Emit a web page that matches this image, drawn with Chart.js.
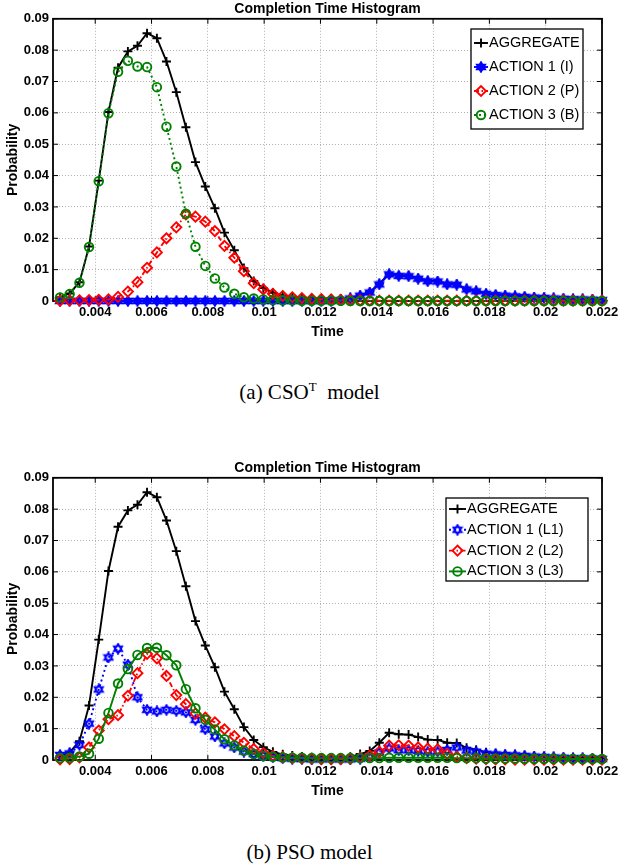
<!DOCTYPE html>
<html lang="en">
<head>
<meta charset="UTF-8">
<title>Completion Time Histogram</title>
<script src="https://cdn.jsdelivr.net/npm/chart.js"></script>
<style>
  body {
    margin: 0;
    background: #fff;
    width: 619px;
    height: 865px;
    position: relative;
    overflow: hidden;
  }
  .plot {
    position: absolute;
    left: 0;
    width: 619px;
    height: 345px;
  }
  .caption {
    position: absolute;
    left: 0;
    width: 619px;
    text-align: center;
    font-family: "Liberation Serif", "Times New Roman", serif;
    font-size: 21px;
    line-height: 24px;
    color: #000;
  }
  .caption sup {
    font-size: 13px;
    vertical-align: 8px;
    line-height: 0;
  }
</style>
</head>
<body>
<div class="plot" style="top:0"><canvas id="chartA"></canvas></div>
<div class="caption" style="top:380px">(a) CSO<sup>T</sup>&nbsp; model</div>
<div class="plot" style="top:459px"><canvas id="chartB"></canvas></div>
<div class="caption" style="top:840px">(b) PSO model</div>

<script>
// bin centres (s)
const time = [
  0.00275, 0.00309, 0.00344, 0.00378, 0.004125, 0.00447, 0.00481, 0.00516, 0.0055, 0.00584,
  0.00619, 0.00653, 0.00688, 0.00722, 0.00756, 0.00791, 0.00825, 0.00859, 0.00894, 0.00928,
  0.00963, 0.00997, 0.01031, 0.01066, 0.011, 0.01134, 0.01169, 0.01203, 0.01238, 0.01272,
  0.01306, 0.01341, 0.01375, 0.01409, 0.01444, 0.01478, 0.01513, 0.01547, 0.01581, 0.01616,
  0.0165, 0.01684, 0.01719, 0.01753, 0.01788, 0.01822, 0.01856, 0.01891, 0.01925, 0.01959,
  0.01994, 0.02028, 0.02063, 0.02097, 0.02131, 0.02166, 0.022
];

const xTicks = [0.004, 0.006, 0.008, 0.01, 0.012, 0.014, 0.016, 0.018, 0.02, 0.022];
const yTicks = [0, 0.01, 0.02, 0.03, 0.04, 0.05, 0.06, 0.07, 0.08, 0.09];

// same aggregate in both models
const aggregate = [
  0.0012, 0.0024, 0.0060, 0.0174, 0.0384, 0.0603, 0.0744, 0.0796, 0.0814, 0.0854,
  0.0838, 0.0764, 0.0666, 0.0554, 0.0443, 0.0365, 0.0296, 0.0218, 0.0162, 0.0105,
  0.0064, 0.0041, 0.0026, 0.0018, 0.0014, 0.0011, 0.0009, 0.0008, 0.0007, 0.0007,
  0.0010, 0.0019, 0.0029, 0.0055, 0.0087, 0.0082, 0.0081, 0.0073, 0.0065, 0.0064,
  0.0055, 0.0054, 0.0039, 0.0033, 0.0025, 0.0021, 0.0019, 0.0017, 0.0015, 0.0013,
  0.0012, 0.0010, 0.0009, 0.0008, 0.0007, 0.0006, 0.0005
];

// (a) CSO^T model
const csoAction1 = [
  0, 0, 0, 0, 0, 0, 0, 0, 0, 0,
  0, 0, 0, 0, 0, 0, 0, 0, 0, 0,
  0, 0, 0, 0, 0, 0, 0, 0, 0, 0.0003,
  0.0008, 0.0017, 0.0027, 0.0053, 0.0085, 0.0080, 0.0079, 0.0071, 0.0063, 0.0062,
  0.0053, 0.0052, 0.0037, 0.0031, 0.0023, 0.0019, 0.0017, 0.0015, 0.0013, 0.0011,
  0.0010, 0.0008, 0.0007, 0.0006, 0.0005, 0.0004, 0.0003
];
const csoAction2 = [
  0.0001, 0.0002, 0.0002, 0.0003, 0.0004, 0.0005, 0.0013, 0.0030, 0.0060, 0.0106,
  0.0155, 0.0200, 0.0235, 0.0276, 0.0269, 0.0253, 0.0223, 0.0176, 0.0138, 0.0095,
  0.0057, 0.0037, 0.0023, 0.0016, 0.0012, 0.0009, 0.0007, 0.0006, 0.0005, 0.0004,
  0.0003, 0.0002, 0.0002, 0.0001, 0.0001, 0.0001, 0.0001, 0.0001, 0.0001, 0.0001,
  0.0001, 0.0001, 0.0001, 0.0001, 0.0001, 0.0001, 0.0001, 0.0001, 0.0001, 0.0001,
  0.0001, 0.0001, 0.0001, 0.0001, 0.0001, 0.0001, 0.0001
];
const csoAction3 = [
  0.0011, 0.0022, 0.0058, 0.0172, 0.0382, 0.0599, 0.0731, 0.0766, 0.0748, 0.0746,
  0.0682, 0.0556, 0.0429, 0.0278, 0.0173, 0.0112, 0.0072, 0.0043, 0.0023, 0.0012,
  0.0008, 0.0005, 0.0003, 0.0002, 0.0002, 0.0001, 0.0001, 0.0001, 0.0001, 0.0001,
  0, 0, 0, 0, 0, 0, 0, 0, 0, 0,
  0, 0, 0, 0, 0, 0, 0, 0, 0, 0,
  0, 0, 0, 0, 0, 0, 0
];

// (b) PSO model
const psoAction1 = [
  0.0016, 0.0021, 0.0048, 0.0116, 0.0225, 0.0327, 0.0355, 0.0304, 0.0200, 0.0160,
  0.0155, 0.0160, 0.0157, 0.0152, 0.0128, 0.0098, 0.0075, 0.0053, 0.0040, 0.0027,
  0.0019, 0.0013, 0.0009, 0.0006, 0.0004, 0.0003, 0.0002, 0.0002, 0.0002, 0.0002,
  0.0002, 0.0004, 0.0010, 0.0024, 0.0037, 0.0031, 0.0031, 0.0029, 0.0026, 0.0027,
  0.0032, 0.0040, 0.0030, 0.0026, 0.0020, 0.0018, 0.0016, 0.0015, 0.0013, 0.0011,
  0.0010, 0.0008, 0.0007, 0.0006, 0.0005, 0.0004, 0.0003
];
const psoAction2 = [
  0.0002, 0.0003, 0.0008, 0.0040, 0.0094, 0.0130, 0.0143, 0.0205, 0.0277, 0.0338,
  0.0324, 0.0268, 0.0207, 0.0178, 0.0148, 0.0135, 0.0120, 0.0098, 0.0076, 0.0055,
  0.0035, 0.0022, 0.0013, 0.0009, 0.0006, 0.0005, 0.0004, 0.0003, 0.0003, 0.0003,
  0.0004, 0.0008, 0.0014, 0.0026, 0.0046, 0.0047, 0.0046, 0.0040, 0.0036, 0.0034,
  0.0020, 0.0011, 0.0006, 0.0004, 0.0003, 0.0002, 0.0002, 0.0001, 0.0001, 0.0001,
  0.0001, 0.0001, 0.0001, 0.0001, 0.0001, 0.0001, 0.0001
];
const psoAction3 = [
  0.0006, 0.0007, 0.0011, 0.0020, 0.0068, 0.0150, 0.0244, 0.0290, 0.0335, 0.0357,
  0.0358, 0.0334, 0.0302, 0.0226, 0.0165, 0.0128, 0.0097, 0.0066, 0.0046, 0.0030,
  0.0019, 0.0013, 0.0010, 0.0008, 0.0007, 0.0007, 0.0006, 0.0006, 0.0006, 0.0006,
  0.0006, 0.0006, 0.0006, 0.0006, 0.0007, 0.0007, 0.0007, 0.0007, 0.0007, 0.0007,
  0.0007, 0.0006, 0.0006, 0.0006, 0.0005, 0.0005, 0.0005, 0.0005, 0.0004, 0.0004,
  0.0004, 0.0004, 0.0003, 0.0003, 0.0003, 0.0003, 0.0003
];

Chart.defaults.font.family = '"Liberation Sans", Arial, Helvetica, sans-serif';
Chart.defaults.color = '#000';

// matlab hexagram marker
function hexagram(size, color, filled) {
  const c = document.createElement('canvas');
  c.width = c.height = size;
  const g = c.getContext('2d');
  const r = size / 2 - 1;
  g.strokeStyle = color;
  g.fillStyle = color;
  g.lineWidth = 1.6;
  [-Math.PI / 2, Math.PI / 2].forEach(a0 => {
    g.beginPath();
    for (let k = 0; k < 3; k++) {
      const a = a0 + k * 2 * Math.PI / 3;
      g.lineTo(size / 2 + r * Math.cos(a), size / 2 + r * Math.sin(a));
    }
    g.closePath();
    if (filled) g.fill();
    g.stroke();
  });
  return c;
}

// axes box + inward ticks, like matlab
const matlabFrame = {
  id: 'matlabFrame',
  beforeDatasetsDraw(chart) {
    const {ctx, chartArea: a, scales: {x, y}} = chart;
    ctx.save();
    ctx.strokeStyle = '#000';
    ctx.lineWidth = 1;
    ctx.beginPath();
    x.ticks.forEach(t => {
      const px = x.getPixelForValue(t.value);
      ctx.moveTo(px, a.bottom); ctx.lineTo(px, a.bottom - 5);
      ctx.moveTo(px, a.top); ctx.lineTo(px, a.top + 5);
    });
    y.ticks.forEach(t => {
      const py = y.getPixelForValue(t.value);
      ctx.moveTo(a.left, py); ctx.lineTo(a.left + 5, py);
      ctx.moveTo(a.right, py); ctx.lineTo(a.right - 5, py);
    });
    ctx.stroke();
    ctx.lineWidth = 1.8;
    ctx.strokeRect(a.left, a.top, a.right - a.left, a.bottom - a.top);
    ctx.restore();
  }
};

// boxed legend inside the axes
const boxLegend = {
  id: 'boxLegend',
  afterDatasetsDraw(chart, args, o) {
    const ctx = chart.ctx;
    ctx.save();
    ctx.fillStyle = '#fff';
    ctx.fillRect(o.x, o.y, o.w, o.h);
    ctx.strokeStyle = '#000';
    ctx.lineWidth = 1.3;
    ctx.strokeRect(o.x, o.y, o.w, o.h);
    ctx.font = '14.5px "Liberation Sans", Arial, sans-serif';
    ctx.textBaseline = 'middle';
    chart.data.datasets.forEach((ds, i) => {
      const yy = o.y + o.first + i * o.step;
      const x0 = o.x + 3;
      ctx.strokeStyle = ds.borderColor;
      ctx.lineWidth = ds.borderWidth;
      ctx.setLineDash(ds.borderDash || []);
      ctx.beginPath();
      ctx.moveTo(x0, yy);
      ctx.lineTo(x0 + o.line, yy);
      ctx.stroke();
      ctx.setLineDash([]);
      ctx.fillStyle = ds.pointBackgroundColor;
      ctx.strokeStyle = ds.pointBorderColor;
      ctx.lineWidth = ds.pointBorderWidth;
      Chart.helpers.drawPoint(ctx, {
        pointStyle: ds.pointStyle, radius: ds.pointRadius, rotation: 0, borderWidth: ds.pointBorderWidth
      }, x0 + o.line / 2, yy);
      ctx.fillStyle = '#000';
      ctx.fillText(ds.label, x0 + o.line + 1, yy);
    });
    ctx.restore();
  }
};

function makeChart(id, series, legendBox) {
  return new Chart(document.getElementById(id), {
    type: 'line',
    data: {
      datasets: series.map((s, i) => ({
        label: s.label,
        data: time.map((t, k) => ({x: t, y: s.values[k]})),
        borderColor: s.color,
        backgroundColor: 'rgba(0,0,0,0)',
        borderWidth: 1.9,
        borderDash: s.dash,
        pointStyle: s.marker,
        pointRadius: s.radius,
        pointBorderWidth: 1.9,
        pointBorderColor: s.color,
        pointBackgroundColor: 'rgba(0,0,0,0)',
        tension: 0,
        clip: false,
        order: series.length - i
      }))
    },
    plugins: [matlabFrame, boxLegend],
    options: {
      responsive: true,
      maintainAspectRatio: false,
      animation: false,
      layout: { padding: { left: 0, right: 17, top: 0, bottom: 0 } },
      plugins: {
        legend: { display: false },
        tooltip: { enabled: false },
        title: {
          display: true,
          text: 'Completion Time Histogram',
          fullSize: false,
          font: { size: 14, weight: 'bold' },
          padding: { top: 1, bottom: 1 }
        },
        boxLegend: legendBox
      },
      scales: {
        x: {
          type: 'linear',
          min: 0.0025,
          max: 0.022,
          afterBuildTicks: sc => { sc.ticks = xTicks.map(v => ({value: v})); },
          afterFit: sc => { sc.height = 44; sc.paddingLeft = 0; sc.paddingRight = 0; },
          ticks: {
            font: { size: 13, weight: 'bold' },
            padding: 4,
            maxRotation: 0,
            callback: v => String(+v.toFixed(4))
          },
          grid: { color: 'rgba(0,0,0,0.3)', drawTicks: false, lineWidth: 1 },
          border: { display: false, dash: [1, 2] },
          title: { display: true, text: 'Time', font: { size: 14, weight: 'bold' }, padding: { top: 0, bottom: 4 } }
        },
        y: {
          min: 0,
          max: 0.09,
          afterBuildTicks: sc => { sc.ticks = yTicks.map(v => ({value: v})); },
          afterFit: sc => { sc.width = 53; sc.paddingTop = 0; sc.paddingBottom = 0; },
          ticks: {
            font: { size: 13, weight: 'bold' },
            padding: 4,
            callback: v => String(+v.toFixed(4))
          },
          grid: { color: 'rgba(0,0,0,0.3)', drawTicks: false, lineWidth: 1 },
          border: { display: false, dash: [1, 2] },
          title: { display: true, text: 'Probability', font: { size: 14, weight: 'bold' }, padding: { top: 5, bottom: 0 } }
        }
      }
    }
  });
}

const dotted = [2, 3];
const dashDot = [5, 2.5, 1.5, 2.5];

makeChart('chartA', [
  { label: 'AGGREGATE', values: aggregate, color: '#000000', dash: [], marker: 'cross', radius: 4.5 },
  { label: 'ACTION 1 (I)', values: csoAction1, color: '#0000ff', dash: [], marker: hexagram(12, '#0000ff', true), radius: 5 },
  { label: 'ACTION 2 (P)', values: csoAction2, color: '#ff0000', dash: dashDot, marker: 'rectRot', radius: 5 },
  { label: 'ACTION 3 (B)', values: csoAction3, color: '#008000', dash: dotted, marker: 'circle', radius: 4.3 }
], { x: 471, y: 29, w: 112, h: 100, first: 14, step: 24, line: 14 });

makeChart('chartB', [
  { label: 'AGGREGATE', values: aggregate, color: '#000000', dash: [], marker: 'cross', radius: 4.5 },
  { label: 'ACTION 1 (L1)', values: psoAction1, color: '#0000ff', dash: dotted, marker: hexagram(12, '#0000ff', false), radius: 5 },
  { label: 'ACTION 2 (L2)', values: psoAction2, color: '#ff0000', dash: dashDot, marker: 'rectRot', radius: 5 },
  { label: 'ACTION 3 (L3)', values: psoAction3, color: '#008000', dash: [], marker: 'circle', radius: 4.3 }
], { x: 446, y: 39, w: 142, h: 83, first: 11, step: 20.8, line: 17 });
</script>
</body>
</html>
